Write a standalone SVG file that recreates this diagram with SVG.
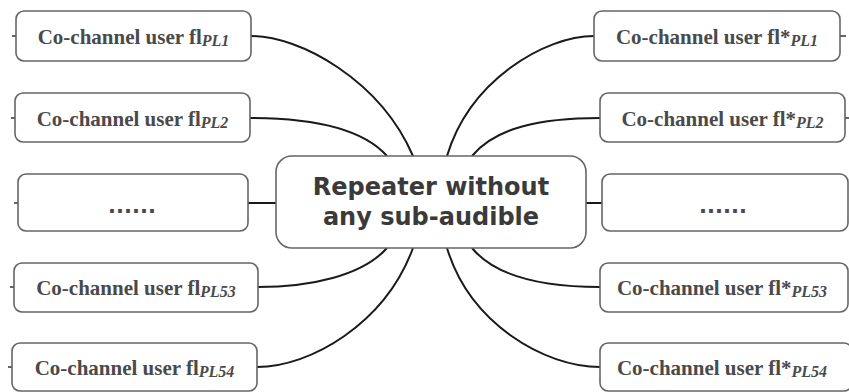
<svg xmlns="http://www.w3.org/2000/svg" width="849" height="392" viewBox="0 0 849 392">
<style>
.box{fill:#fff;stroke:#666;stroke-width:1.6}
.lbl{font-family:"Liberation Serif","Times New Roman",serif;font-weight:bold;font-size:21px;fill:#4a4a4a;text-anchor:middle}
.sub{font-style:italic;font-size:16px}
.dots{font-family:"DejaVu Sans",sans-serif;font-weight:bold;font-size:21px;fill:#4a4a4a;text-anchor:middle}
.ctr{font-family:"DejaVu Sans",Verdana,sans-serif;font-weight:bold;font-size:24px;fill:#3a3a3a;text-anchor:middle}
.con{fill:none;stroke:#1a1a1a;stroke-width:2}
.stub{fill:none;stroke:#333;stroke-width:1.5}
</style>
<g id="connectors">
<path class="con" d="M251,36 C300,36 380,80 413,156"/>
<path class="con" d="M250,118 C310,118 362,128 387,156"/>
<path class="con" d="M248,203 L276,203"/>
<path class="con" d="M258,287 C310,287 362,276 387,248"/>
<path class="con" d="M257,367 C310,367 385,324 413,248"/>
<path class="con" d="M594,36 C545,36 470,80 447,156"/>
<path class="con" d="M600,118 C540,118 495,128 472,156"/>
<path class="con" d="M586,203 L602,203"/>
<path class="con" d="M600,287 C540,287 495,276 472,248"/>
<path class="con" d="M600,367 C545,367 470,324 447,248"/>
<path class="stub" d="M12,36 H16 M11,118 H15 M14,203 H18 M10,287 H14 M8,367 H12 M840,36 H846 M845,118 H849"/>
</g>
<g id="center">
<rect class="box" x="276" y="156" width="310" height="92" rx="16"/>
<text class="ctr" x="431" y="195">Repeater without</text>
<text class="ctr" x="431" y="225">any sub-audible</text>
</g>
<g id="left1">
<rect class="box" x="16" y="11" width="235" height="50" rx="8"/>
<text class="lbl" x="133.5" y="44">Co-channel user fl<tspan class="sub" dy="2">PL1</tspan></text>
</g>
<g id="left2">
<rect class="box" x="15" y="93" width="235" height="49" rx="8"/>
<text class="lbl" x="132.5" y="126">Co-channel user fl<tspan class="sub" dy="2">PL2</tspan></text>
</g>
<g id="left3">
<rect class="box" x="18" y="174" width="230" height="57" rx="8"/>
<text class="dots" x="132" y="213">......</text>
</g>
<g id="left4">
<rect class="box" x="14" y="263" width="244" height="49" rx="8"/>
<text class="lbl" x="136" y="295">Co-channel user fl<tspan class="sub" dy="2">PL53</tspan></text>
</g>
<g id="left5">
<rect class="box" x="12" y="343" width="245" height="48" rx="8"/>
<text class="lbl" x="134.5" y="375">Co-channel user fl<tspan class="sub" dy="2">PL54</tspan></text>
</g>
<g id="right1">
<rect class="box" x="594" y="11" width="246" height="50" rx="8"/>
<text class="lbl" x="717" y="44">Co-channel user fl*<tspan class="sub" dy="2">PL1</tspan></text>
</g>
<g id="right2">
<rect class="box" x="600" y="93" width="245" height="49" rx="8"/>
<text class="lbl" x="722.5" y="126">Co-channel user fl*<tspan class="sub" dy="2">PL2</tspan></text>
</g>
<g id="right3">
<rect class="box" x="602" y="174" width="246" height="57" rx="8"/>
<text class="dots" x="723" y="213">......</text>
</g>
<g id="right4">
<rect class="box" x="600" y="263" width="248" height="49" rx="8"/>
<text class="lbl" x="722" y="295">Co-channel user fl*<tspan class="sub" dy="2">PL53</tspan></text>
</g>
<g id="right5">
<rect class="box" x="600" y="343" width="252" height="48" rx="8"/>
<text class="lbl" x="722" y="375">Co-channel user fl*<tspan class="sub" dy="2">PL54</tspan></text>
</g>
</svg>
